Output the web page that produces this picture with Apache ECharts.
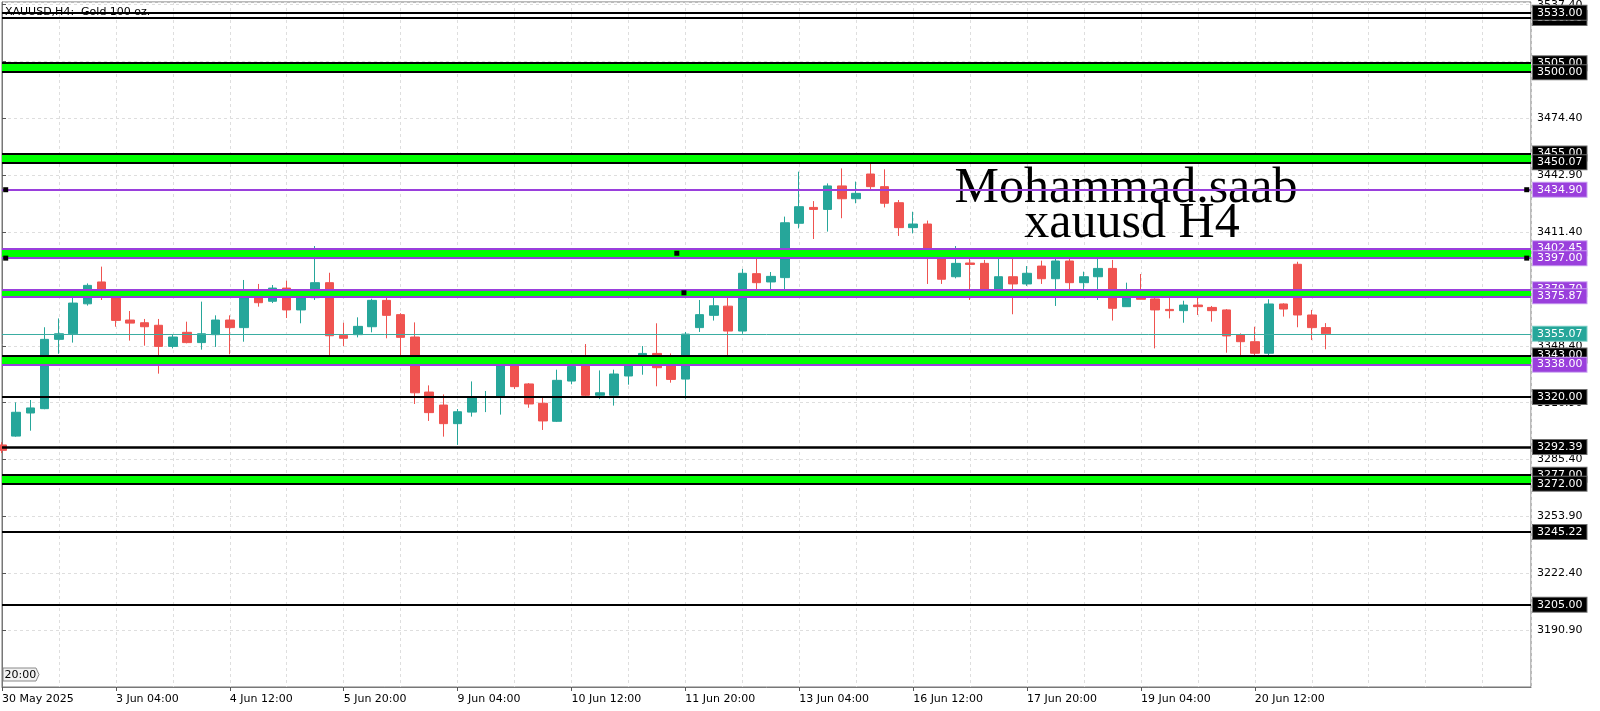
<!DOCTYPE html>
<html><head><meta charset="utf-8">
<script src="https://cdn.jsdelivr.net/npm/echarts@6/dist/echarts.min.js"></script>
<style>html,body{margin:0;padding:0;background:#fff}#c{width:1600px;height:711px}</style>
</head><body><div id="c"></div>
<script>
// H4 bars, bar 0 = 30 May 2025 20:00 ... bar 93 = 23 Jun 08:00
const opens = [3293.5,3298.4,3311.2,3313.6,3352.0,3355.1,3371.7,3383.8,3376.4,3362.7,
  3361.2,3359.8,3348.1,3355.9,3350.2,3354.6,3362.7,3358.5,3374.9,3373.1,
  3380.4,3368.3,3375.1,3383.4,3354.2,3354.6,3359.0,3373.6,3365.7,3353.3,
  3322.8,3315.6,3305.3,3311.7,3319.8,3320.2,3339.5,3327.3,3316.6,3306.6,
  3328.9,3337.2,3321.0,3321.0,3331.7,3342.4,3344.2,3337.2,3330.0,3358.5,
  3365.3,3370.4,3356.6,3388.4,3383.8,3386.2,3416.3,3425.1,3424.0,3437.0,
  3429.9,3443.6,3436.6,3427.7,3413.9,3415.9,3399.7,3386.7,3394.3,3394.1,
  3378.4,3386.7,3382.7,3392.6,3385.6,3395.4,3383.4,3386.7,3391.3,3370.1,
  3379.3,3374.4,3368.6,3367.9,3371.0,3369.7,3368.3,3354.4,3350.7,3344.3,
  3371.6,3393.6,3365.5,3358.5];
const highs = [3295.0,3317.1,3318.4,3358.7,3363.6,3379.3,3383.0,3392.3,3377.9,3367.7,
  3363.3,3363.3,3354.6,3361.8,3372.9,3365.3,3365.3,3384.9,3382.7,3382.1,
  3384.5,3377.5,3403.7,3388.9,3361.2,3364.2,3374.5,3375.6,3366.5,3361.4,
  3326.5,3321.5,3313.4,3328.7,3323.4,3341.0,3341.5,3327.8,3319.5,3335.2,
  3340.2,3349.4,3334.8,3335.2,3343.3,3348.3,3360.9,3344.2,3356.1,3373.8,
  3377.8,3375.6,3391.0,3399.3,3389.3,3420.0,3444.9,3428.6,3438.4,3446.7,
  3439.4,3450.4,3446.2,3429.2,3422.7,3417.8,3401.5,3403.7,3401.5,3396.0,
  3399.7,3396.9,3392.6,3395.6,3400.0,3396.9,3389.5,3396.9,3396.0,3383.4,
  3388.2,3375.6,3378.4,3373.4,3375.6,3370.5,3368.8,3355.3,3359.0,3374.2,
  3372.0,3395.0,3368.3,3361.0];
const lows = [3289.0,3298.0,3301.4,3313.3,3344.0,3350.2,3370.7,3373.8,3359.0,3351.3,
  3348.5,3333.0,3347.0,3349.8,3346.3,3347.8,3343.7,3350.7,3370.1,3372.1,
  3363.8,3360.9,3373.8,3339.6,3348.3,3353.1,3355.9,3352.6,3343.1,3316.2,
  3306.8,3298.1,3293.5,3309.2,3311.7,3310.3,3324.5,3314.1,3301.8,3306.2,
  3327.1,3320.4,3318.9,3315.3,3326.9,3332.4,3326.0,3328.0,3319.1,3356.1,
  3362.4,3339.1,3355.1,3378.5,3378.5,3379.7,3413.5,3407.6,3411.7,3419.1,
  3427.4,3434.4,3425.1,3409.3,3410.7,3382.7,3382.7,3385.8,3373.8,3377.5,
  3376.6,3365.9,3381.6,3382.7,3370.5,3376.6,3375.7,3373.8,3362.4,3370.1,
  3374.2,3347.0,3363.6,3361.2,3365.5,3361.8,3344.6,3340.6,3342.4,3342.4,
  3364.6,3358.7,3351.6,3346.5];
const closes = [3290.5,3311.6,3314.0,3352.0,3355.1,3372.1,3381.9,3376.4,3362.5,3361.0,
  3359.0,3348.1,3353.3,3350.2,3355.1,3362.7,3358.5,3374.9,3372.3,3380.4,
  3368.3,3376.0,3383.4,3354.0,3352.6,3359.2,3373.6,3365.3,3353.1,3322.4,
  3311.4,3305.3,3311.9,3319.7,3320.1,3339.5,3325.8,3316.2,3306.8,3329.3,
  3337.0,3321.0,3322.4,3332.8,3342.0,3344.2,3336.3,3329.8,3354.9,3365.7,
  3370.6,3356.6,3388.6,3383.4,3386.9,3416.6,3425.5,3424.0,3437.0,3429.9,
  3432.9,3436.6,3427.4,3413.9,3415.9,3399.7,3385.3,3394.1,3393.5,3378.4,
  3386.7,3382.7,3388.6,3385.6,3395.4,3383.4,3386.7,3391.3,3369.2,3379.3,
  3374.2,3368.3,3367.9,3371.0,3370.1,3367.9,3353.9,3350.7,3344.3,3371.6,
  3368.8,3365.5,3358.5,3355.07];

const timeTickBars = [0,8,16,24,32,40,48,56,64,72,80,88];
const timeTickLabels = ['30 May 2025','3 Jun 04:00','4 Jun 12:00','5 Jun 20:00','9 Jun 04:00',
  '10 Jun 12:00','11 Jun 20:00','13 Jun 04:00','16 Jun 12:00','17 Jun 20:00','19 Jun 04:00','20 Jun 12:00'];
const barSpan = 107.4;          // visible bar slots incl. right shift
const priceMin = 3159.4, priceMax = 3538.9, priceStep = 31.5;

// horizontal levels (value, kind) in drawing order
const levelValues = [3530.00,3533.00,3505.00,3500.00,3455.00,3450.07,3434.90,3402.45,3397.00,
  3379.70,3375.87,3355.07,3343.00,3338.00,3320.00,3292.39,3277.00,3272.00,3245.22,3205.00];
const levelKinds  = ['k','k','k','k','k','k','p','p','p','p','p','t','k','p','k','k2','k','k','k','k'];
const zoneBands = [[3505.00,3500.00],[3455.00,3450.07],[3402.45,3397.00],[3379.70,3375.87],[3343.00,3338.00],[3277.00,3272.00]];
const anchorPoints = [[0.26,3434.90],[107.1,3434.90],[0.26,3397.00],[107.1,3397.00],[47.4,3399.7],[47.9,3377.8]];

const PURPLE = '#9a3fdc', TEAL = '#26a69a', RED = '#ef5350', LIME = '#00ff00';
const FONT = 'DejaVu Sans';

const styleOf = {
  k:  {line:'#000', w:2, bg:'#000', bc:'#6e6e6e'},
  k2: {line:'#000', w:2.5, bg:'#000', bc:'#6e6e6e'},
  p:  {line:PURPLE, w:2, bg:PURPLE, bc:'#c9a2f0'},
  t:  {line:'#3aada2', w:1, bg:TEAL, bc:'#7fcfc6'}
};

const markLineData = levelValues.map((v, i) => {
  const s = styleOf[levelKinds[i]];
  return {
    yAxis: v,
    lineStyle: {color: s.line, width: s.w, type: 'solid'},
    label: {
      show: true, position: 'end', distance: 2, formatter: v.toFixed(2),
      color: '#fff', backgroundColor: s.bg, borderColor: s.bc, borderWidth: 1,
      padding: [2, 4, 1, 4], fontFamily: FONT, fontSize: 11, lineHeight: 11
    }
  };
});

const markAreaData = zoneBands.map(b => [{yAxis: b[0]}, {yAxis: b[1]}]);

const candleData = opens.map((o, i) => [i, o, closes[i], lows[i], highs[i]]);

const chart = echarts.init(document.getElementById('c'), null, {renderer: 'canvas'});
chart.setOption({
  animation: false,
  backgroundColor: '#fff',
  grid: {left: 2, right: 69, top: 2, bottom: 24, containLabel: false, outerBoundsMode: 'none',
    show: true, borderColor: '#777', borderWidth: 1, backgroundColor: 'transparent'},
  xAxis: [{
    type: 'value', min: 0, max: barSpan, interval: 8,
    axisLine: {show: true, onZero: false, lineStyle: {color: '#777', width: 1}},
    axisTick: {show: true, length: 4, customValues: timeTickBars, lineStyle: {color: '#555'}},
    axisLabel: {show: true, customValues: timeTickBars, align: 'left', margin: 7,
      fontFamily: FONT, fontSize: 11, color: '#000',
      formatter: v => { const k = timeTickBars.indexOf(Math.round(v)); return k >= 0 ? timeTickLabels[k] : ''; }},
    splitLine: {show: false}
  }, {
    type: 'value', min: 0, max: barSpan, interval: 4, position: 'top',
    axisLine: {show: false}, axisTick: {show: false}, axisLabel: {show: false},
    splitLine: {show: true, lineStyle: {color: '#dedede', type: [3, 3], width: 1}}
  }],
  yAxis: {
    type: 'value', position: 'right', min: priceMin, max: priceMax, interval: priceStep, scale: true,
    axisLine: {show: true, lineStyle: {color: '#777', width: 1}},
    axisTick: {show: true, length: 4, lineStyle: {color: '#555'}},
    axisLabel: {show: true, margin: 6, fontFamily: FONT, fontSize: 11, color: '#000',
      showMinLabel: false, showMaxLabel: false, formatter: v => v.toFixed(2)},
    splitLine: {show: true, lineStyle: {color: '#dedede', type: [3, 3], width: 1}}
  },
  graphic: [
    {type: 'text', x: 5, y: 12, z: 1, style: {text: 'XAUUSD,H4:  Gold 100 oz.', font: '11px "DejaVu Sans"', fill: '#000', verticalAlign: 'middle'}},
    {type: 'text', x: 1126, y: 189, z: 1, style: {text: 'Mohammad.saab', font: '50px "Liberation Serif"', fill: '#000', align: 'center', verticalAlign: 'middle'}},
    {type: 'text', x: 1132, y: 224, z: 1, style: {text: 'xauusd H4', font: '50px "Liberation Serif"', fill: '#000', align: 'center', verticalAlign: 'middle'}},
    {type: 'group', x: 3, y: 668, z: 10, children: [
      {type: 'polygon', shape: {points: [[0,0],[33,0],[36,6.5],[33,13],[0,13]]}, style: {fill: '#f2f2f2', stroke: '#8a8a8a', lineWidth: 1}},
      {type: 'text', x: 1.5, y: 7, style: {text: '20:00', font: '11px "DejaVu Sans"', fill: '#000', verticalAlign: 'middle'}}
    ]}
  ],
  series: [{
    type: 'candlestick',
    xAxisIndex: 0, yAxisIndex: 0,
    data: candleData,
    encode: {x: 0, y: [1, 2, 3, 4]},
    barWidth: 9,
    clip: true,
    itemStyle: {color: TEAL, color0: RED, borderColor: TEAL, borderColor0: RED, borderWidth: 1},
    markArea: {silent: true, z: 3, itemStyle: {color: LIME, opacity: 1}, label: {show: false}, data: markAreaData},
    markLine: {silent: true, z: 5, symbol: ['none', 'none'], animation: false, data: markLineData},
    markPoint: {silent: true, z: 6, symbol: 'rect', symbolSize: 5, itemStyle: {color: '#000'}, label: {show: false},
      data: anchorPoints.map(p => ({coord: p}))}
  }]
});
</script></body></html>
